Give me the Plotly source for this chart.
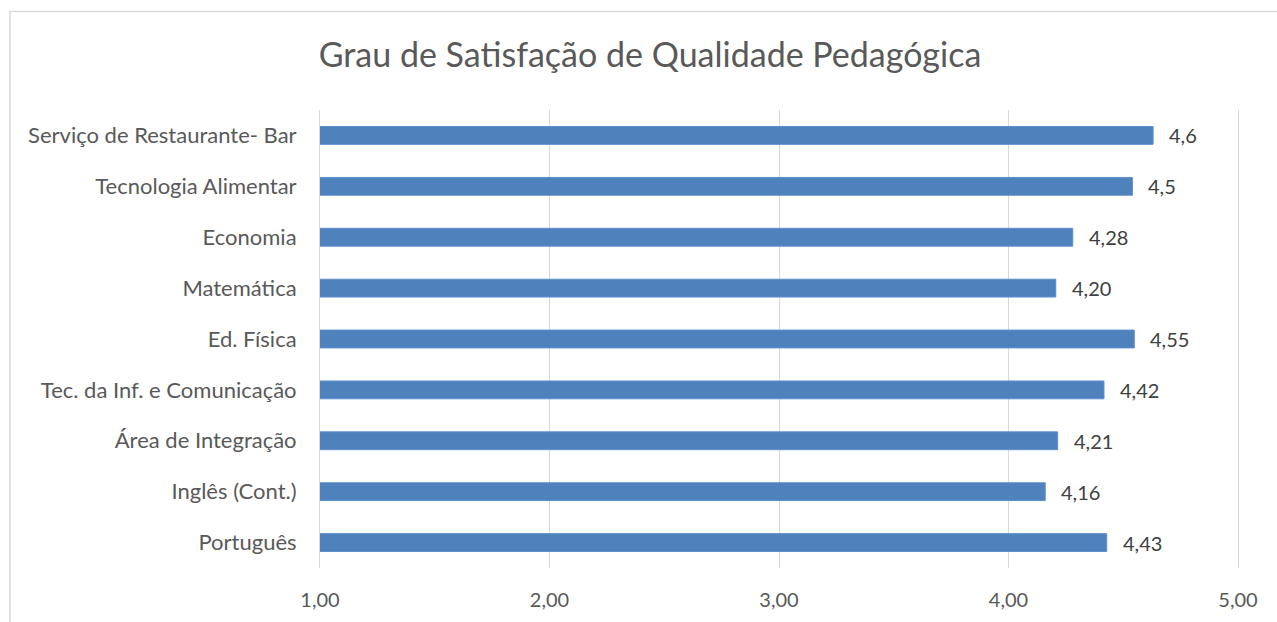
import plotly.graph_objects as go

categories = ["Serviço de Restaurante- Bar", "Tecnologia Alimentar", "Economia", "Matemática",
              "Ed. Física", "Tec. da Inf. e Comunicação", "Área de Integração", "Inglês (Cont.)", "Português"]
values = [4.63, 4.54, 4.28, 4.206, 4.548, 4.416, 4.214, 4.16, 4.428]
value_labels = ["4,6", "4,5", "4,28", "4,20", "4,55", "4,42", "4,21", "4,16", "4,43"]
x_ticks = [1, 2, 3, 4, 5]
x_tick_labels = ["1,00", "2,00", "3,00", "4,00", "5,00"]

FONT = "Lato"
TXT = "#595959"
GRID = "#D9D9D9"

fig = go.Figure()
fig.add_trace(go.Bar(
    x=values, y=categories, orientation="h",
    marker=dict(color="#4F81BD", line=dict(color="#5B8FCB", width=1)),
    hoverinfo="skip",
))
for v, c, t in zip(values, categories, value_labels):
    fig.add_annotation(x=v, y=c, text=t, showarrow=False, xanchor="left", xshift=14,
                       font=dict(family=FONT, size=20, color="#404040"))

fig.update_layout(
    width=1277, height=622,
    margin=dict(l=320, r=39, t=110, b=54, autoexpand=False),
    paper_bgcolor="white", plot_bgcolor="white",
    bargap=0.65, showlegend=False,
    title=dict(text="Grau de Satisfação de Qualidade Pedagógica", x=650/1277, xref="container",
               xanchor="center", y=1 - 55/622, yref="container", yanchor="middle",
               font=dict(family=FONT, size=34, color=TXT)),
    font=dict(family=FONT, size=20, color=TXT),
    xaxis=dict(range=[1, 5], tickvals=x_ticks, ticktext=x_tick_labels, showgrid=True,
               gridcolor=GRID, gridwidth=1, zeroline=False, showline=False, automargin=False,
               ticks="", ticklabelstandoff=18, tickfont=dict(family=FONT, size=20, color=TXT),
               fixedrange=True),
    yaxis=dict(autorange="reversed", showgrid=False, zeroline=False, showline=True,
               linecolor=GRID, linewidth=1, mirror=True, ticks="", automargin=False,
               ticklabelstandoff=18, tickfont=dict(family=FONT, size=22, color=TXT)),
)
fig.add_shape(type="rect", xref="paper", yref="paper", x0=-310/918, x1=1.1, y0=-0.3, y1=1 + 98.5/458,
              line=dict(color=GRID, width=1.5), fillcolor="rgba(0,0,0,0)", layer="below")
fig.write_html("out.html", config={"displayModeBar": False},
               post_script="document.body.style.margin='0';")
